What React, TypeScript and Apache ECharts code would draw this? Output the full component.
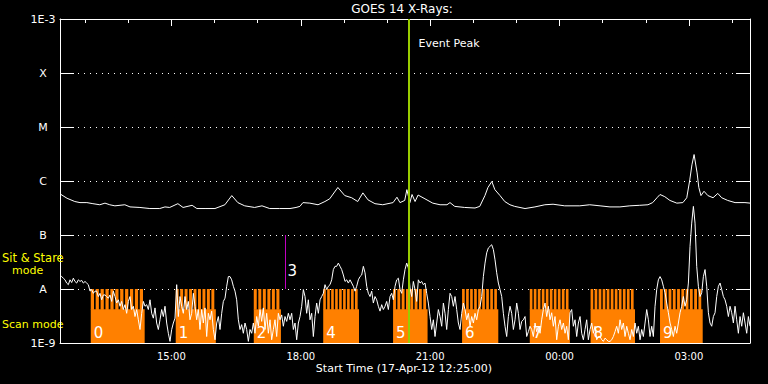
import React, { useEffect, useRef } from "react";
import * as echarts from "echarts";

// ---- time frame (hours of 17-Apr-12; values above 24 are on 18-Apr) ----
const START_HOUR = 12 + 25 / 60; // 12:25:00
const END_HOUR = START_HOUR + 16;
const SHORT_STEP_MIN = 2.319; // sample spacing of the 0.5-4 A channel readings

const hourTicks = [13, 14, 15, 16, 17, 18, 19, 20, 21, 22, 23, 24, 25, 26, 27, 28];
const labelHours = [15, 18, 21, 24, 27];
const tickLabels = ["15:00", "18:00", "21:00", "00:00", "03:00"];

const yExps = [-9, -8, -7, -6, -5, -4, -3];
const yLabels = ["1E-9", "A", "B", "C", "M", "X", "1E-3"];

// ---- GOES 14 1-8 A channel (log10 W/m^2) ----
const longTimes = [
  12.42, 12.58, 12.76, 12.88, 13.04, 13.18, 13.34, 13.46, 13.57, 13.69,
  13.92, 14.04, 14.27, 14.5, 14.73, 14.85, 14.96, 15.15, 15.27, 15.48,
  15.59, 15.78, 16.01, 16.24, 16.4, 16.54, 16.7, 16.93, 17.1, 17.28,
  17.51, 17.75, 17.89, 17.98, 18.05, 18.21, 18.4, 18.56, 18.67, 18.86,
  19.02, 19.18, 19.32, 19.44, 19.56, 19.72, 19.9, 20.14, 20.23, 20.3,
  20.41, 20.46, 20.53, 20.58, 20.65, 20.72, 20.88, 21.06, 21.23, 21.39,
  21.46, 21.57, 21.8, 22.04, 22.15, 22.27, 22.34, 22.43, 22.5, 22.62,
  22.73, 22.85, 22.96, 23.2, 23.43, 23.66, 23.85, 24.12, 24.47, 24.7,
  24.94, 25.17, 25.4, 25.63, 25.86, 26.05, 26.16, 26.26, 26.33, 26.44,
  26.56, 26.72, 26.86, 26.95, 27.02, 27.07, 27.12, 27.19, 27.23, 27.28,
  27.35, 27.44, 27.56, 27.67, 27.76, 27.9, 28.07, 28.3, 28.42,
];
const longLogFlux = [
  -6.24, -6.32, -6.38, -6.4, -6.4, -6.42, -6.44, -6.41, -6.44, -6.46,
  -6.44, -6.48, -6.49, -6.51, -6.51, -6.48, -6.49, -6.42, -6.49, -6.45,
  -6.51, -6.51, -6.51, -6.44, -6.27, -6.4, -6.46, -6.49, -6.46, -6.51,
  -6.51, -6.51, -6.49, -6.47, -6.4, -6.41, -6.44, -6.38, -6.33, -6.12,
  -6.27, -6.31, -6.38, -6.22, -6.35, -6.42, -6.44, -6.4, -6.3, -6.4,
  -6.36, -6.16, -6.4, -6.25, -6.38, -6.26, -6.33, -6.41, -6.44, -6.44,
  -6.4, -6.47, -6.49, -6.5, -6.47, -6.27, -6.12, -6.01, -6.16, -6.27,
  -6.38, -6.44, -6.47, -6.51, -6.48, -6.44, -6.43, -6.46, -6.46, -6.44,
  -6.46, -6.48, -6.48, -6.46, -6.45, -6.44, -6.4, -6.31, -6.25, -6.29,
  -6.36, -6.41, -6.4, -6.31, -5.98, -5.7, -5.51, -5.85, -6.12, -6.27,
  -6.19, -6.27, -6.31, -6.23, -6.31, -6.36, -6.4, -6.4, -6.41,
];

// ---- GOES 14 0.5-4 A channel (log10 W/m^2), evenly sampled from 12:25 ----
const shortLogFlux = [
  -7.74, -7.77, -7.8, -7.83, -7.89, -7.92, -7.83, -7.88, -7.8, -7.86,
  -7.89, -7.83, -7.86, -7.84, -7.89, -7.86, -7.89, -7.92, -8.04, -8.01,
  -8.08, -8.04, -8.04, -8.14, -8.08, -8.2, -8.11, -8.11, -8.14, -8.17,
  -8.11, -8.23, -8.04, -8.14, -8.26, -8.2, -8.32, -8.23, -8.38, -8.29,
  -8.45, -8.23, -8.14, -8.38, -8.32, -8.51, -8.38, -8.57, -8.75, -8.45,
  -8.23, -8.32, -8.29, -8.38, -8.2, -8.45, -8.54, -8.35, -8.63, -8.75,
  -8.57, -8.38, -8.51, -8.32, -8.63, -8.82, -8.97, -8.75, -8.63, -8.54,
  -7.92, -8.51, -8.14, -8.32, -8.45, -8.14, -8.38, -8.23, -8.57, -8.45,
  -8.08, -8.32, -8.57, -8.38, -8.75, -8.38, -8.63, -8.35, -8.88, -8.45,
  -8.57, -8.41, -8.75, -8.94, -8.63, -8.51, -8.75, -8.45, -8.23, -8.17,
  -7.95, -7.77, -7.77, -7.83, -7.95, -8.04, -8.2, -8.57, -8.75, -8.66,
  -8.82, -8.63, -8.75, -8.97, -8.75, -8.82, -8.63, -8.82, -8.51, -8.69,
  -8.38, -8.6, -8.35, -8.75, -8.45, -8.82, -8.57, -8.94, -8.75, -8.57,
  -8.88, -8.45, -8.57, -8.48, -8.69, -8.51, -8.6, -8.45,
  -8.57, -8.45, -8.75, -8.63, -8.94, -8.63, -8.51, -8.32, -8.01, -8.14,
  -8.45, -8.2, -8.57, -8.45, -8.88, -8.51, -8.26, -8.45, -8.2, -8.14,
  -8.08, -7.92, -8.01, -7.95, -7.92, -7.83, -7.64, -7.58, -7.58, -7.52,
  -7.58, -7.64, -7.74, -7.86, -7.83, -7.89, -7.83, -7.89, -7.95, -8.04,
  -7.95, -7.83, -7.77, -7.74, -7.58, -7.7, -7.95, -8.08, -8.14, -8.04,
  -8.26, -8.14, -8.2, -8.32, -8.41, -8.29, -8.38, -8.32, -8.23, -8.38,
  -8.14, -8.08, -8.2, -7.95, -7.83, -7.8, -8.01, -8.08, -7.83, -7.64,
  -7.52, -7.61, -7.98, -8.14, -7.86, -8.01, -8.23, -7.83, -7.89, -7.86,
  -7.92, -7.89, -8.08, -8.26, -8.51, -8.75, -8.57, -8.88, -8.63, -8.38,
  -8.51, -8.69, -8.26, -8.45, -8.75, -8.38, -8.08, -8.14, -8.32, -8.14,
  -8.38, -8.63, -8.75, -8.45, -8.26, -8.38, -8.57, -8.45, -8.69, -8.51,
  -8.63, -8.45, -8.57, -8.38, -8.32, -8.14, -7.77, -7.52, -7.33, -7.24,
  -7.21, -7.18, -7.27, -7.46, -7.7, -7.89, -8.01, -8.14, -8.45, -8.69,
  -8.88, -8.51, -8.32, -8.45, -8.75, -8.57, -8.26, -8.45,
  -8.75, -8.6, -8.57, -8.51, -8.88, -8.79, -8.69, -8.75, -8.88, -8.63,
  -8.79, -8.69, -8.82, -8.57, -8.38, -8.26, -8.51, -8.32, -8.57, -8.44,
  -8.69, -8.51, -8.94, -8.69, -8.57, -8.75, -8.63, -8.82, -8.69, -8.94,
  -8.44, -8.38, -8.69, -8.57, -8.88, -8.63, -8.51, -8.82, -8.94, -8.75,
  -8.57, -8.94, -8.75, -8.63, -8.82, -8.69, -8.94, -8.88, -8.88, -8.94,
  -8.97, -8.91, -8.94, -8.97, -8.97, -8.94, -8.88, -8.79, -8.69, -8.82,
  -8.57, -8.75, -8.63, -8.88, -8.69, -8.82, -8.94, -8.75, -8.88, -8.63,
  -8.82, -8.69, -8.94, -8.75, -8.88, -8.63, -8.38, -8.57, -8.88, -8.69,
  -8.88, -8.32, -8.01, -7.83, -7.77, -7.83, -7.95, -8.07, -8.26, -8.44,
  -8.63, -8.75, -8.88, -8.69, -8.82, -8.63, -8.44, -8.32, -8.14, -8.32,
  -8.2, -7.89, -7.21, -6.78, -6.47, -6.78, -7.58, -7.95, -8.14, -8.07,
  -7.77, -7.64, -7.95, -8.44, -8.63, -8.69, -8.51, -8.44, -8.14, -7.95,
  -7.89, -8.01, -8.14, -8.2, -8.32, -8.51, -8.32, -8.44, -8.63, -8.32,
  -8.57, -8.82, -8.51, -8.69, -8.44, -8.63, -8.82, -8.51, -8.69,
];

// ---- scan-mode periods ----
const scanStart = [13.13, 15.1, 16.91, 18.52, 20.14, 21.74, 23.31, 24.72, 26.33];
const scanEnd = [14.38, 16.03, 17.54, 19.35, 20.94, 22.58, 24.24, 25.75, 27.32];
const scanStripes = [11, 9, 6, 9, 8, 9, 10, 11, 10];
const scanLabels = ["0", "1", "2", "4", "5", "6", "7", "8", "9"];
const SCAN_COMB_TOP = 1e-8;
const SCAN_SOLID_TOP = 4.2e-9;
const FLUX_FLOOR = 1e-9;
const FLUX_CEIL = 1e-3;

// ---- sit & stare period and event peak ----
const sitStareTimes = [17.64];
const sitStareLabels = ["3"];
const SIT_STARE_LOW = 1e-8;
const SIT_STARE_HIGH = 1e-7;
const eventPeakTimes = [20.5];

const ORANGE = "#FF8000";
const FONT = "DejaVu Sans";

export default function App() {
  const ref = useRef<HTMLDivElement>(null);

  useEffect(() => {
    if (!ref.current) return;
    const chart = echarts.init(ref.current, null, { renderer: "svg" });

    const shortData = shortLogFlux.map((e, i) => [
      START_HOUR + (i * SHORT_STEP_MIN) / 60,
      Math.pow(10, e),
    ]);
    const longData = longTimes.map((t, i) => [t, Math.pow(10, longLogFlux[i])]);
    const scanData = scanStart.map((s, i) => [s, scanEnd[i], scanStripes[i], SCAN_COMB_TOP]);

    const xBase = {
      type: "value",
      min: START_HOUR,
      max: END_HOUR,
      splitLine: { show: false },
    };

    const option: any = {
      animation: false,
      backgroundColor: "#000",
      grid: { left: 60, right: 18, top: 19, bottom: 41, containLabel: false },
      xAxis: [
        {
          ...xBase,
          position: "bottom",
          axisLine: { show: true, lineStyle: { color: "#fff", width: 1 } },
          axisTick: { show: false },
          axisLabel: {
            customValues: labelHours,
            formatter: (v: number) => {
              const idx = labelHours.findIndex((h) => Math.abs(h - v) < 0.01);
              return idx >= 0 ? tickLabels[idx] : "";
            },
            color: "#fff",
            fontSize: 10,
            fontFamily: FONT,
            margin: 8,
          },
        },
        {
          ...xBase,
          position: "top",
          axisLine: { show: true, lineStyle: { color: "#fff", width: 1 } },
          axisTick: {
            show: true,
            inside: true,
            length: 4,
            customValues: hourTicks,
            lineStyle: { color: "#fff", width: 1 },
          },
          axisLabel: { show: false },
        },
        {
          ...xBase,
          position: "top",
          axisLine: { show: false },
          axisTick: {
            show: true,
            inside: true,
            length: 7,
            customValues: labelHours,
            lineStyle: { color: "#fff", width: 1 },
          },
          axisLabel: { show: false },
        },
      ],
      yAxis: [
        {
          type: "log",
          logBase: 10,
          min: FLUX_FLOOR,
          max: FLUX_CEIL,
          position: "left",
          axisLine: { show: true, lineStyle: { color: "#fff", width: 1 } },
          axisTick: { show: true, inside: true, length: 14, lineStyle: { color: "#fff", width: 1 } },
          axisLabel: {
            color: "#fff",
            fontSize: 11,
            fontFamily: FONT,
            margin: 17,
            align: "center",
            formatter: (v: number) => {
              const idx = yExps.indexOf(Math.round(Math.log10(v)));
              return idx >= 0 ? yLabels[idx] : "";
            },
          },
          splitLine: { show: true, lineStyle: { color: "#fff", width: 1, type: [1, 5] } },
        },
        {
          type: "log",
          logBase: 10,
          min: FLUX_FLOOR,
          max: FLUX_CEIL,
          position: "right",
          axisLine: { show: true, lineStyle: { color: "#fff", width: 1 } },
          axisTick: { show: true, inside: true, length: 14, lineStyle: { color: "#fff", width: 1 } },
          axisLabel: { show: false },
          splitLine: { show: false },
        },
      ],
      series: [
        {
          type: "custom",
          name: "scan",
          xAxisIndex: 0,
          yAxisIndex: 0,
          z: 1,
          clip: true,
          data: scanData,
          encode: { x: [0, 1], y: 3 },
          renderItem: (params: any, api: any) => {
            const i = params.dataIndex;
            const p0 = api.coord([scanStart[i], SCAN_COMB_TOP]);
            const p1 = api.coord([scanEnd[i], SCAN_SOLID_TOP]);
            const yBot = api.coord([scanStart[i], FLUX_FLOOR])[1];
            const x0 = p0[0];
            const x1 = p1[0];
            const yComb = p0[1];
            const ySolid = p1[1];
            const n = scanStripes[i];
            const pitch = (x1 - x0) / n;
            const children: any[] = [
              {
                type: "rect",
                shape: { x: x0, y: ySolid, width: x1 - x0, height: yBot - ySolid },
                style: { fill: ORANGE },
              },
            ];
            for (let k = 0; k < n; k++) {
              children.push({
                type: "rect",
                shape: { x: x0 + k * pitch, y: yComb, width: pitch * 0.66, height: ySolid - yComb + 0.5 },
                style: { fill: ORANGE },
              });
            }
            children.push({
              type: "text",
              x: x0 + 3,
              y: yBot - 10,
              style: {
                text: scanLabels[i],
                fill: "#fff",
                fontSize: 15,
                fontFamily: FONT,
                align: "left",
                verticalAlign: "middle",
              },
            });
            return { type: "group", children };
          },
        },
        {
          type: "line",
          name: "short",
          xAxisIndex: 0,
          yAxisIndex: 0,
          z: 3,
          data: shortData,
          showSymbol: false,
          symbol: "none",
          clip: true,
          lineStyle: { color: "#fff", width: 1 },
        },
        {
          type: "line",
          name: "long",
          xAxisIndex: 0,
          yAxisIndex: 0,
          z: 3,
          data: longData,
          showSymbol: false,
          symbol: "none",
          clip: true,
          lineStyle: { color: "#fff", width: 1 },
        },
        {
          type: "custom",
          name: "sitstare",
          xAxisIndex: 0,
          yAxisIndex: 0,
          z: 4,
          data: sitStareTimes.map((t) => [t, SIT_STARE_HIGH]),
          encode: { x: 0, y: 1 },
          renderItem: (params: any, api: any) => {
            const i = params.dataIndex;
            const top = api.coord([sitStareTimes[i], SIT_STARE_HIGH]);
            const bot = api.coord([sitStareTimes[i], SIT_STARE_LOW]);
            const xc = Math.round(top[0]) + 0.5;
            return {
              type: "group",
              children: [
                {
                  type: "line",
                  shape: { x1: xc, y1: top[1], x2: xc, y2: bot[1] },
                  style: { stroke: "#C000C0", lineWidth: 1 },
                },
                {
                  type: "text",
                  x: xc + 2,
                  y: (top[1] + bot[1]) / 2 + 9,
                  style: {
                    text: sitStareLabels[i],
                    fill: "#fff",
                    fontSize: 15,
                    fontFamily: FONT,
                    align: "left",
                    verticalAlign: "middle",
                  },
                },
              ],
            };
          },
        },
        {
          type: "custom",
          name: "peak",
          xAxisIndex: 0,
          yAxisIndex: 0,
          z: 5,
          data: eventPeakTimes.map((t) => [t, FLUX_CEIL]),
          encode: { x: 0, y: 1 },
          renderItem: (params: any, api: any) => {
            const i = params.dataIndex;
            const top = api.coord([eventPeakTimes[i], FLUX_CEIL]);
            const bot = api.coord([eventPeakTimes[i], FLUX_FLOOR]);
            const xc = Math.round(top[0]);
            return {
              type: "group",
              children: [
                {
                  type: "line",
                  shape: { x1: xc, y1: top[1], x2: xc, y2: bot[1] },
                  style: { stroke: "#99CC00", lineWidth: 2 },
                },
                {
                  type: "text",
                  x: xc + 9.5,
                  y: top[1] + 24,
                  style: {
                    text: "Event Peak",
                    fill: "#fff",
                    fontSize: 11,
                    fontFamily: FONT,
                    align: "left",
                    verticalAlign: "middle",
                  },
                },
              ],
            };
          },
        },
      ],
      graphic: [
        {
          type: "text",
          x: 402,
          y: 9,
          style: { text: "GOES 14 X-Rays:", fill: "#fff", fontSize: 12, fontFamily: FONT, align: "center", verticalAlign: "middle" },
        },
        {
          type: "text",
          x: 404,
          y: 368,
          style: { text: "Start Time (17-Apr-12 12:25:00)", fill: "#fff", fontSize: 11, fontFamily: FONT, align: "center", verticalAlign: "middle" },
        },
        {
          type: "text",
          x: 2,
          y: 258,
          z: 100,
          style: { text: "Sit & Stare", fill: "#FFFF00", fontSize: 11.5, fontFamily: FONT, align: "left", verticalAlign: "middle" },
        },
        {
          type: "text",
          x: 12,
          y: 270,
          style: { text: "mode", fill: "#FFFF00", fontSize: 11, fontFamily: FONT, align: "left", verticalAlign: "middle" },
        },
        {
          type: "text",
          x: 2,
          y: 324,
          style: { text: "Scan mode", fill: "#FFFF00", fontSize: 11, fontFamily: FONT, align: "left", verticalAlign: "middle" },
        },
      ],
    };

    chart.setOption(option);
    return () => chart.dispose();
  }, []);

  return (
    <div
      ref={ref}
      style={{ position: "fixed", left: 0, top: 0, width: 768, height: 384, background: "#000" }}
    />
  );
}
